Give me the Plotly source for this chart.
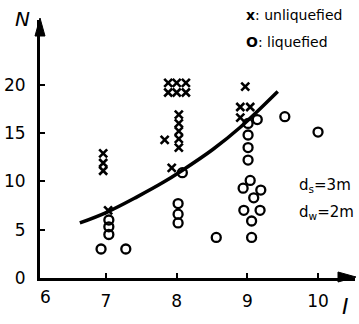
import plotly.graph_objects as go

# unliquefied (x markers)
unliq_I = [6.96, 6.96, 6.96, 7.03,
           7.88, 8.0, 8.13, 7.88, 8.0, 8.13,
           8.03, 8.03, 8.03, 8.03, 8.03, 7.83, 7.93,
           8.97, 8.9, 9.04, 8.9]
unliq_N = [12.9, 11.9, 11.1, 7.0,
           20.2, 20.2, 20.2, 19.2, 19.2, 19.2,
           16.9, 16.0, 15.2, 14.4, 13.5, 14.3, 11.4,
           19.8, 17.7, 17.7, 16.6]

# liquefied (o markers)
liq_I = [7.04, 7.04, 7.04, 6.93, 7.28,
         8.02, 8.02, 8.02, 8.08, 8.56,
         9.14, 9.01, 9.01, 9.01, 9.01,
         9.04, 8.94, 9.19, 9.09, 8.95, 9.18, 9.06, 9.06,
         9.53, 10.0]
liq_N = [6.0, 5.3, 4.5, 3.0, 3.0,
         7.7, 6.6, 5.7, 10.9, 4.2,
         16.4, 16.0, 14.8, 13.5, 12.2,
         10.1, 9.3, 9.1, 8.3, 7.0, 7.0, 5.9, 4.2,
         16.7, 15.1]

# boundary curve
curve_I = [6.63, 7.01, 7.44, 7.81, 8.05, 8.51, 8.90, 9.43]
curve_N = [5.7, 6.8, 8.4, 9.9, 11.0, 13.3, 15.6, 19.3]

x_ticks = [7, 8, 9, 10]
y_ticks = [0, 5, 10, 15, 20]

FONT = "DejaVu Sans"
W, H = 359, 324
L, R, T, B = 40, 4, 20, 46
pw, ph = W - L - R, H - T - B


def px(x):
    return (x - L) / pw


def py(y):
    return (H - B - y) / ph


fig = go.Figure()
fig.add_trace(go.Scatter(x=curve_I, y=curve_N, mode="lines",
                         line=dict(color="black", width=3.5, shape="spline"),
                         hoverinfo="skip"))
fig.add_trace(go.Scatter(x=unliq_I, y=unliq_N, mode="markers",
                         marker=dict(symbol="x-thin-open", size=8, color="black",
                                     line=dict(color="black", width=2.6))))
fig.add_trace(go.Scatter(x=liq_I, y=liq_N, mode="markers",
                         marker=dict(symbol="circle-open", size=9, color="black",
                                     line=dict(color="black", width=2.3))))

fig.update_layout(
    width=W, height=H,
    margin=dict(l=L, r=R, t=T, b=B, autoexpand=False),
    paper_bgcolor="white", plot_bgcolor="white",
    showlegend=False,
    font=dict(family=FONT, color="black"),
    xaxis=dict(range=[6.066, 10.523], showgrid=False, zeroline=False, automargin=False,
               showline=True, linecolor="black", linewidth=3,
               tickmode="array", tickvals=x_ticks, ticktext=[str(v) for v in x_ticks],
               ticks="inside", ticklen=5, tickwidth=2, tickcolor="black",
               tickfont=dict(size=17, family=FONT), ticklabelstandoff=6),
    yaxis=dict(range=[0, 26.7], showgrid=False, zeroline=False, automargin=False,
               showline=True, linecolor="black", linewidth=3,
               tickmode="array", tickvals=y_ticks, ticktext=[str(v) for v in y_ticks],
               ticks="inside", ticklen=5, tickwidth=2, tickcolor="black",
               tickfont=dict(size=17, family=FONT), ticklabelstandoff=8),
)

# arrowheads on the axes
shapes = [
    dict(type="path", xref="paper", yref="paper",
         path=f"M {px(40)} {py(18)} L {px(35)} {py(36)} L {px(45)} {py(36)} Z",
         fillcolor="black", line=dict(color="black", width=1)),
    dict(type="path", xref="paper", yref="paper",
         path=f"M {px(356)} {py(277)} L {px(338)} {py(272)} L {px(338)} {py(282)} Z",
         fillcolor="black", line=dict(color="black", width=1)),
]


def text_ann(x, y, text, size, xanchor="center"):
    return dict(x=px(x), y=py(y), xref="paper", yref="paper", text=text,
                showarrow=False, xanchor=xanchor, yanchor="middle",
                font=dict(size=size, family=FONT, color="black"))


ann = [
    text_ann(45, 297, "6", 17),
    text_ann(22, 19, "<i>N</i>", 20),
    text_ann(345, 306, "<i>I</i>", 22),
    text_ann(244, 15, "<b>x</b>: unliquefied", 14, "left"),
    text_ann(244, 42, "<b>O</b>: liquefied", 14, "left"),
    text_ann(297, 185, "d<sub>s</sub>=3m", 15, "left"),
    text_ann(297, 212, "d<sub>w</sub>=2m", 15, "left"),
]
fig.update_layout(annotations=ann, shapes=shapes)

fig.write_html("out.html",
               config={"displayModeBar": False},
               post_script="document.body.style.margin='0';document.body.style.overflow='hidden';")
